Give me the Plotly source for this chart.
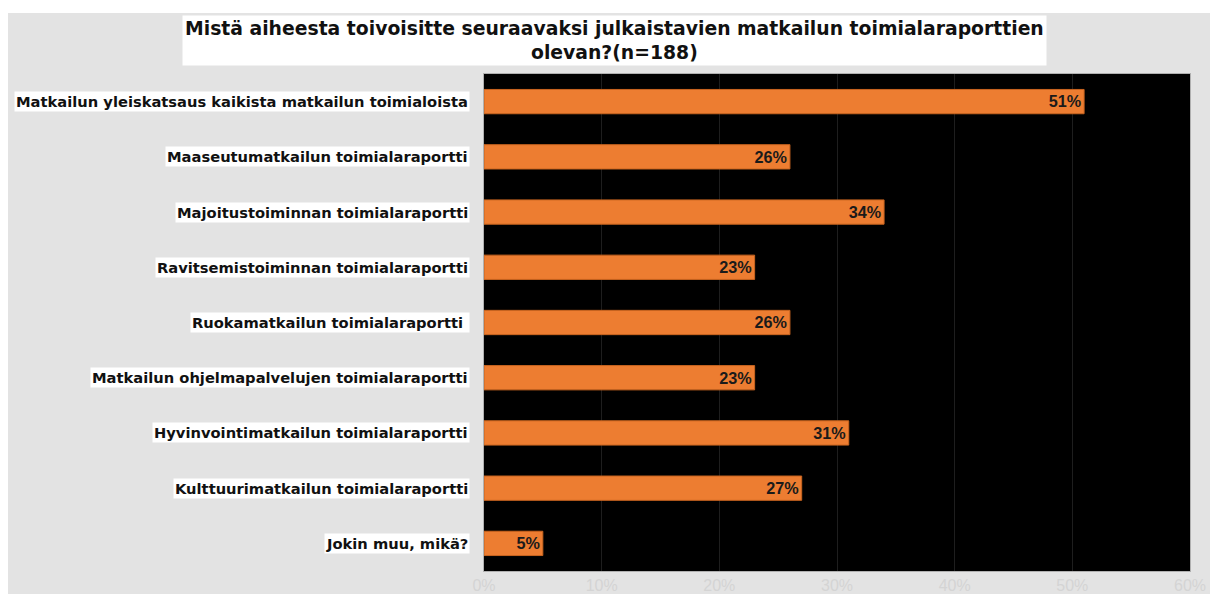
import plotly.graph_objects as go

categories = [
    "Matkailun yleiskatsaus kaikista matkailun toimialoista",
    "Maaseutumatkailun toimialaraportti",
    "Majoitustoiminnan toimialaraportti",
    "Ravitsemistoiminnan toimialaraportti",
    "Ruokamatkailun toimialaraportti ",
    "Matkailun ohjelmapalvelujen toimialaraportti",
    "Hyvinvointimatkailun toimialaraportti",
    "Kulttuurimatkailun toimialaraportti",
    "Jokin muu, mikä?",
]
values = [0.51, 0.26, 0.34, 0.23, 0.26, 0.23, 0.31, 0.27, 0.05]
tick_vals = [0, 0.1, 0.2, 0.3, 0.4, 0.5, 0.6]
tick_text = ["0%", "10%", "20%", "30%", "40%", "50%", "60%"]
title_text = ("Mistä aiheesta toivoisitte seuraavaksi julkaistavien matkailun toimialaraporttien"
              "<br>olevan?(n=188)")

W, H = 1210, 594
L, R, T, B = 484, 20, 74, 23
pw = W - L - R
ph = H - T - B


def px_x(p):  # pixel -> paper x
    return (p - L) / pw


def px_y(p):  # pixel -> paper y
    return (H - B - p) / ph


FONT = "DejaVu Sans, Liberation Sans, Arial, sans-serif"
FONT2 = "Liberation Sans, Arial, sans-serif"

fig = go.Figure()
fig.add_trace(go.Bar(
    x=values, y=categories, orientation="h",
    marker=dict(color="#ED7D31", line=dict(color="#C8641F", width=1)),
    width=0.44,
    text=[f"{round(v*100)}%" for v in values],
    textposition="inside", insidetextanchor="end",
    textfont=dict(family=FONT2, size=19.5, color="#1a1a1a", weight="bold"),
    cliponaxis=False,
))

annotations = []
for c in categories:
    annotations.append(dict(
        x=px_x(470), xref="paper", y=c, yref="y",
        xanchor="right", yanchor="middle", showarrow=False,
        text=f"<b>{c}</b>", bgcolor="white", borderpad=1,
        font=dict(family=FONT, size=14.7, color="#111111"),
    ))
annotations.append(dict(
    x=px_x(614), xref="paper", y=px_y(41), yref="paper",
    xanchor="center", yanchor="middle", showarrow=False,
    text=f"<b>{title_text}</b>", bgcolor="white", borderpad=2,
    font=dict(family=FONT, size=18.8, color="#111111"),
))

shapes = [
    # white strip above the grey panel
    dict(type="rect", xref="paper", yref="paper",
         x0=px_x(-5), x1=px_x(W + 5), y0=px_y(13), y1=px_y(-5),
         fillcolor="white", line=dict(width=0), layer="above"),
    # white strip left of the grey panel
    dict(type="rect", xref="paper", yref="paper",
         x0=px_x(-5), x1=px_x(8), y0=px_y(H + 5), y1=px_y(-5),
         fillcolor="white", line=dict(width=0), layer="above"),
]

fig.update_layout(
    template="none",
    width=W, height=H,
    margin=dict(l=L, r=R, t=T, b=B, autoexpand=False),
    paper_bgcolor="#e3e3e3", plot_bgcolor="black",
    showlegend=False,
    annotations=annotations, shapes=shapes,
    xaxis=dict(range=[0, 0.6], tickvals=tick_vals, ticktext=tick_text, automargin=False,
               showgrid=True, gridcolor="#1e1e1e", gridwidth=1, zeroline=False,
               showline=True, linecolor="#b0b0b0", linewidth=1, mirror=True,
               tickfont=dict(family=FONT2, size=16, color="#d4d4d4"),
               ticks="", ticklen=0),
    yaxis=dict(autorange="reversed", showticklabels=False, showgrid=False, zeroline=False,
               automargin=False,
               showline=True, linecolor="#b0b0b0", linewidth=1, mirror=True, ticks=""),
    bargap=0.56,
)

fig.write_html("out.html")
